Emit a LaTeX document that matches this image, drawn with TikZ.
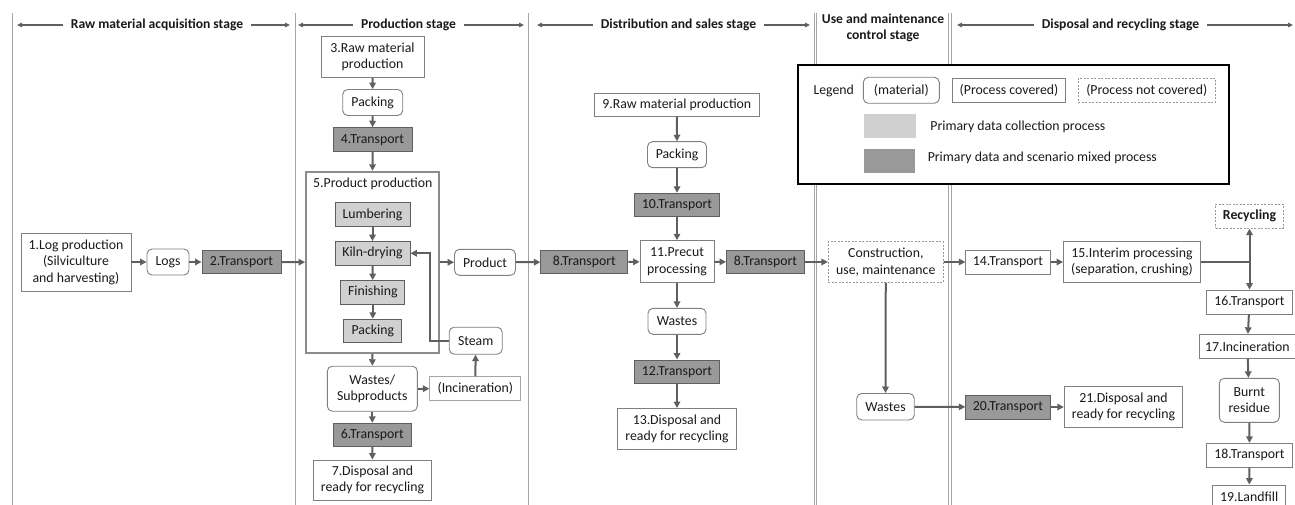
\documentclass[tikz,border=0pt]{standalone}
\usepackage{fontspec}
\setmainfont{Carlito}
\usetikzlibrary{arrows.meta,positioning}

\definecolor{linegray}{HTML}{7F7F7F}
\definecolor{arrowgray}{HTML}{5F5F5F}
\definecolor{darkfill}{HTML}{999999}
\definecolor{lightfill}{HTML}{D0D0D0}
\definecolor{colgray}{HTML}{A6A6A6}
\definecolor{txtgray}{HTML}{1A1A1A}

\tikzset{
  sz/.style 2 args={minimum width=#1pt, minimum height=#2pt},
  proc/.style={draw=linegray, fill=white, line width=0.9pt, align=center, inner sep=1pt, text=txtgray, font=\fontsize{13.8}{16.5}\selectfont},
  mat/.style={proc, rounded corners=5pt},
  dark/.style={proc, fill=darkfill, draw=arrowgray},
  light/.style={proc, fill=lightfill, draw=arrowgray},
  nocov/.style={proc, draw=linegray!80, dashed, dash pattern=on 2pt off 1.5pt},
  flow/.style={draw=arrowgray, line width=2pt, -{Triangle[length=6.5pt,width=6.5pt]}},
  stagehead/.style={font=\bfseries\fontsize{13.6}{16}\selectfont, text=txtgray, fill=white, inner xsep=8pt, align=center},
  stagearrow/.style={draw=arrowgray, line width=1.4pt, {Triangle[length=5pt,width=4.5pt]}-{Triangle[length=5pt,width=4.5pt]}},
  colline/.style={draw=colgray, line width=0.9pt, double=white, double distance=1.8pt}
}

\begin{document}
\begin{tikzpicture}[x=1pt, y=-1pt]
    \useasboundingbox (0,0) rectangle (1295,505);

    % stage separators
    \foreach \cx in {11.3,294.3,527.3,815.5,950}
        \draw[colline] (\cx,13) -- (\cx,510);

    % stage headings
    \foreach \i/\xa/\xb/\xt/\txt in {1/17/290/157/Raw material acquisition stage,
                                    2/298/524/408.5/Production stage,
                                    3/537/810/678.5/Distribution and sales stage,
                                    4/957/1293/1120.5/Disposal and recycling stage} {
        \coordinate (ha\i) at (\xa,25);
        \coordinate (hb\i) at (\xb,25);
        \draw[stagearrow] (ha\i) -- (hb\i);
        \node[stagehead] (h\i) at (\xt,25) {\txt};
    }
    \node[stagehead, fill=none] (huse) at (883,28) {Use and maintenance\\control stage};

    % raw material acquisition
    \node[proc, sz={110}{58}] (logprod) at (76,262) {1.Log production\\(Silviculture\\and harvesting)};
    \node[mat, sz={42}{26}] (logs) at (168,262) {Logs};
    \node[dark, sz={79}{23.5}] (trans2) at (241.5,262) {2.Transport};

    % production
    \node[proc, sz={103}{41}] (rawprod3) at (372.5,57) {3.Raw material\\production};
    \node[mat, sz={60}{26}] (pack3) at (372.7,102.5) {Packing};
    \node[dark, sz={79}{24}] (trans4) at (372.5,139.7) {4.Transport};
    \node[draw=linegray!90, line width=2pt, sz={133}{181}] (prodbox) at (372.6,262.3) {};
    \node[proc, draw=none, fill=none] (prodtitle) at (372.8,184.3) {5.Product production};
    \node[light, sz={75}{24.5}] (lumber) at (372.5,214.5) {Lumbering};
    \node[light, sz={75}{23.5}] (kiln) at (372.5,253.3) {Kiln-drying};
    \node[light, sz={64}{23.5}] (finish) at (372.8,292.3) {Finishing};
    \node[light, sz={58}{23.5}] (pack5) at (372.8,331) {Packing};
    \node[mat, sz={61}{26}] (product) at (485,262.3) {Product};
    \node[mat, sz={53}{27}] (steam) at (475.7,340.7) {Steam};
    \node[mat, sz={90}{45}] (wastes5) at (372.3,388.7) {Wastes/\\Subproducts};
    \node[proc, draw=colgray, sz={91}{24}] (incin) at (475.3,388.7) {(Incineration)};
    \node[dark, sz={78}{23.5}] (trans6) at (372.3,435) {6.Transport};
    \node[proc, sz={118}{40}] (disp7) at (372.5,480) {7.Disposal and\\ready for recycling};

    % distribution and sales
    \node[dark, sz={87}{23.5}] (trans8a) at (584.3,262) {8.Transport};
    \node[proc, sz={74}{42}] (precut) at (677,261.7) {11.Precut\\processing};
    \node[dark, sz={78}{23.5}] (trans8b) at (765.5,262) {8.Transport};
    \node[proc, sz={165}{23}] (raw9) at (676.8,104.7) {9.Raw material production};
    \node[mat, sz={59}{26}] (pack9) at (677,154.7) {Packing};
    \node[dark, sz={85}{23.5}] (trans10) at (677,205) {10.Transport};
    \node[mat, sz={58}{26}] (wastes11) at (677,321.3) {Wastes};
    \node[dark, sz={85}{23.5}] (trans12) at (677,371.7) {12.Transport};
    \node[proc, sz={119}{41}] (disp13) at (677,429) {13.Disposal and\\ready for recycling};

    % use and maintenance
    \node[nocov, sz={115}{40.5}] (constr) at (885.8,262) {Construction,\\use, maintenance};
    \node[mat, sz={57.5}{26.5}] (wastesU) at (885.5,406.7) {Wastes};

    % disposal and recycling
    \node[proc, sz={84.5}{24}] (trans14) at (1008,262) {14.Transport};
    \node[proc, sz={137}{40.5}] (interim) at (1132,262) {15.Interim processing\\(separation, crushing)};
    \node[nocov, sz={67.5}{24}, font=\bfseries\fontsize{13.8}{16}\selectfont] (recyc) at (1249.5,216.2) {Recycling};
    \node[proc, sz={85.5}{24}] (trans16) at (1249.5,302) {16.Transport};
    \node[proc, sz={96}{24}] (incin17) at (1247.3,346.3) {17.Incineration};
    \node[mat, sz={60}{44}] (burnt) at (1249.3,400.3) {Burnt\\residue};
    \node[proc, sz={85.5}{24}] (trans18) at (1249.5,455.3) {18.Transport};
    \node[proc, sz={73}{24}] (landfill) at (1249.2,497) {19.Landfill};
    \node[dark, sz={84.5}{24}] (trans20) at (1008,407) {20.Transport};
    \node[proc, sz={118.5}{40.5}] (disp21) at (1123.5,407) {21.Disposal and\\ready for recycling};

    % legend
    \node[draw=black, fill=white, line width=1.8pt, sz={431}{119}] (legend) at (1013.5,124.5) {};
    \node[proc, draw=none, fill=none] (legtitle) at (833.7,90.7) {Legend};
    \node[mat, sz={76}{26}] (legmat) at (901.3,90.3) {(material)};
    \node[proc, sz={113}{24}] (legcov) at (1009,90.3) {(Process covered)};
    \node[nocov, sz={137}{24}] (legnot) at (1146.7,90.3) {(Process not covered)};
    \node[fill=lightfill, sz={52}{23.5}] (leglight) at (890,126) {};
    \node[proc, draw=none, fill=none, anchor=west] (leglighttxt) at (929,126.7) {Primary data collection process};
    \node[fill=darkfill, sz={51}{23.5}] (legdark) at (889.7,160.8) {};
    \node[proc, draw=none, fill=none, anchor=west] (legdarktxt) at (926.3,158.3) {Primary data and scenario mixed process};

    % main flow
    \draw[flow] (logprod) -- (logs);
    \draw[flow] (logs) -- (trans2);
    \draw[flow] (trans2) -- (prodbox);
    \draw[flow] (prodbox) -- (product);
    \draw[flow] (product) -- (trans8a);
    \draw[flow] (trans8a) -- (precut);
    \draw[flow] (precut) -- (trans8b);
    \draw[flow] (trans8b) -- (constr);
    \draw[flow] (constr) -- (trans14);
    \draw[flow] (trans14) -- (interim);

    % production stage
    \draw[flow] (rawprod3) -- (pack3);
    \draw[flow] (pack3) -- (trans4);
    \draw[flow] (trans4) -- (prodbox);
    \draw[flow] (lumber) -- (kiln);
    \draw[flow] (kiln) -- (finish);
    \draw[flow] (finish) -- (pack5);
    \draw[flow] (prodbox) -- (wastes5);
    \draw[flow] (wastes5) -- (incin);
    \draw[flow] (incin) -- (steam);
    \draw[flow] (steam.west) -- ++(-18.5,0) |- (kiln.east);
    \draw[flow] (wastes5) -- (trans6);
    \draw[flow] (trans6) -- (disp7);

    % distribution stage
    \draw[flow] (raw9) -- (pack9);
    \draw[flow] (pack9) -- (trans10);
    \draw[flow] (trans10) -- (precut);
    \draw[flow] (precut) -- (wastes11);
    \draw[flow] (wastes11) -- (trans12);
    \draw[flow] (trans12) -- (disp13);

    % use and disposal
    \draw[flow] (constr) -- (wastesU);
    \draw[flow] (wastesU) -- (trans20);
    \draw[flow] (trans20) -- (disp21);
    \coordinate (junction) at (recyc.south |- interim.east);
    \draw[flow, -] (interim.east) -- (junction);
    \draw[flow] (junction) -- (recyc);
    \draw[flow] (junction) -- (trans16);
    \draw[flow] (trans16) -- (incin17);
    \draw[flow] (incin17) -- (burnt);
    \draw[flow] (burnt) -- (trans18);
    \draw[flow] (trans18) -- (landfill);
\end{tikzpicture}
\end{document}
